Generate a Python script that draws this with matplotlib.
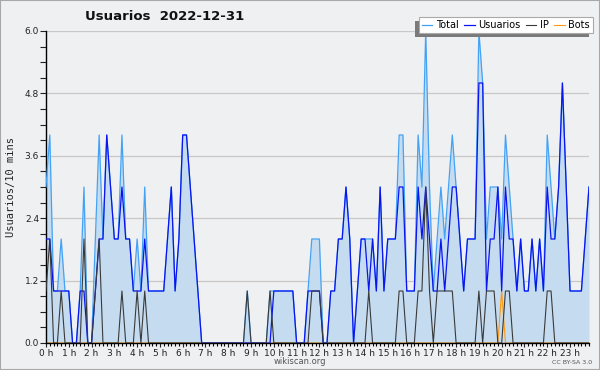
import numpy as np
import matplotlib
matplotlib.use('Agg')
import matplotlib.pyplot as plt
from matplotlib.patches import Rectangle
from matplotlib.ticker import MultipleLocator, FixedLocator, FormatStrFormatter

# valores cada 10 minutos (144 puntos)
total = [3, 4, 1, 1, 2, 1, 1, 0, 0, 1,
         3, 0, 0, 2, 4, 2, 4, 3, 2, 2,
         4, 2, 2, 1, 2, 1, 3, 1, 1, 1,
         1, 1, 2, 3, 1, 2, 4, 4, 3, 2,
         1, 0, 0, 0, 0, 0, 0, 0, 0, 0,
         0, 0, 0, 1, 0, 0, 0, 0, 0, 1,
         1, 1, 1, 1, 1, 1, 0, 0, 0, 1,
         2, 2, 2, 0, 0, 1, 1, 2, 2, 3,
         2, 0, 1, 2, 2, 2, 2, 1, 3, 1,
         2, 2, 2, 4, 4, 1, 1, 1, 4, 3,
         6, 3, 1, 2, 3, 2, 3, 4, 3, 2,
         1, 2, 2, 2, 6, 5, 2, 3, 3, 3,
         2, 4, 3, 2, 1, 2, 1, 1, 2, 1,
         2, 1, 4, 3, 2, 3, 5, 3, 1, 1,
         1, 1, 2, 3]
usuarios = [2, 2, 1, 1, 1, 1, 1, 0, 0, 1,
            1, 0, 0, 1, 2, 2, 4, 3, 2, 2,
            3, 2, 2, 1, 1, 1, 2, 1, 1, 1,
            1, 1, 2, 3, 1, 2, 4, 4, 3, 2,
            1, 0, 0, 0, 0, 0, 0, 0, 0, 0,
            0, 0, 0, 0, 0, 0, 0, 0, 0, 0,
            1, 1, 1, 1, 1, 1, 0, 0, 0, 1,
            1, 1, 1, 0, 0, 1, 1, 2, 2, 3,
            2, 0, 1, 2, 2, 1, 2, 1, 3, 1,
            2, 2, 2, 3, 3, 1, 1, 1, 3, 2,
            3, 2, 1, 1, 2, 1, 2, 3, 3, 2,
            1, 2, 2, 2, 5, 5, 1, 2, 2, 3,
            1, 3, 2, 2, 1, 2, 1, 1, 2, 1,
            2, 1, 3, 2, 2, 3, 5, 3, 1, 1,
            1, 1, 2, 3]
ip = [1, 2, 0, 0, 1, 0, 0, 0, 0, 0,
      2, 0, 0, 1, 2, 0, 0, 0, 0, 0,
      1, 0, 0, 0, 1, 0, 1, 0, 0, 0,
      0, 0, 0, 0, 0, 0, 0, 0, 0, 0,
      0, 0, 0, 0, 0, 0, 0, 0, 0, 0,
      0, 0, 0, 1, 0, 0, 0, 0, 0, 1,
      0, 0, 0, 0, 0, 0, 0, 0, 0, 0,
      1, 1, 1, 0, 0, 0, 0, 0, 0, 0,
      0, 0, 0, 0, 0, 1, 0, 0, 0, 0,
      0, 0, 0, 1, 1, 0, 0, 0, 1, 1,
      3, 1, 0, 1, 1, 1, 1, 1, 0, 0,
      0, 0, 0, 0, 1, 0, 1, 1, 1, 0,
      0, 1, 1, 0, 0, 0, 0, 0, 0, 0,
      0, 0, 1, 1, 0, 0, 0, 0, 0, 0,
      0, 0, 0, 0]
bots = [0] * 144
bots[120] = 1  # unico bot, poco despues de las 20 h

horas = np.arange(len(total)) / 6.0
hour_labels = [f'{h} h' for h in range(24)]

bg = '#eff0f1'
W, H = 600, 370
fig = plt.figure(figsize=(6.0, 3.7), dpi=100, facecolor=bg)
ax = fig.add_axes([46 / W, 27 / H, 543 / W, 312 / H])
ax.set_facecolor(bg)

ax.fill_between(horas, total, 0, color='#c5dcf0', lw=0, zorder=1)
ax.plot(horas, total, color='#44a2f5', lw=0.9, zorder=3, label='Total')
ax.plot(horas, usuarios, color='#0a14f0', lw=0.9, zorder=4, label='Usuarios')
ax.plot(horas, ip, color='#3a3a3a', lw=0.8, zorder=5, label='IP')
ax.plot(horas, bots, color='#ff9a10', lw=0.8, zorder=2, label='Bots')

ax.set_xlim(0, horas[-1])
ax.set_ylim(0, 6.0)
ax.yaxis.set_major_locator(MultipleLocator(1.2))
ax.yaxis.set_minor_locator(MultipleLocator(0.3))
ax.yaxis.set_major_formatter(FormatStrFormatter('%.1f'))
ax.xaxis.set_major_locator(FixedLocator(range(24)))
ax.set_xticklabels(hour_labels)
ax.xaxis.set_minor_locator(MultipleLocator(1 / 6))
ax.grid(axis='y', color='#c8c8c8', lw=0.9, zorder=0)
ax.set_axisbelow(True)

for s in ['top', 'right']:
    ax.spines[s].set_visible(False)
ax.spines['left'].set_linewidth(1.0)
ax.spines['bottom'].set_linewidth(1.0)
ax.tick_params(axis='y', which='both', direction='out', length=4, width=0.8,
               labelsize=6.5, pad=1, colors='#222222')
ax.tick_params(axis='x', which='major', direction='out', length=3, width=0.8,
               labelsize=6.5, pad=1, colors='#222222')
ax.tick_params(axis='x', which='minor', direction='out', length=2, width=0.8)

ax.set_ylabel('Usuarios/10 mins', family='DejaVu Sans Mono', fontsize=7.5,
              labelpad=6, color='#222222')

fig.text(85 / W, 1 - 17 / H, 'Usuarios  2022-12-31', fontsize=9.5,
         fontweight='bold', va='center', ha='left', color='#111111')
fig.text(0.5, 1 - 361 / H, 'wikiscan.org', fontsize=6, ha='center',
         va='center', color='#555555')
fig.text(592 / W, 1 - 362 / H, 'CC BY-SA 3.0', fontsize=4.5, ha='right',
         va='center', color='#555555')

# leyenda arriba a la derecha
leg = fig.legend(loc='upper right', bbox_to_anchor=(593 / W, 1 - 17 / H),
                 ncol=4, fontsize=7, frameon=True, fancybox=False,
                 borderpad=0.3, handlelength=1.1, handletextpad=0.4,
                 columnspacing=0.5, borderaxespad=0)
leg.get_frame().set_edgecolor('#aaaaaa')
leg.get_frame().set_facecolor('white')
leg.get_frame().set_alpha(1)
leg.get_frame().set_linewidth(0.8)
leg.set_zorder(10)

# sombra gris abajo a la izquierda
fig.canvas.draw()
bb = leg.get_window_extent()
sh = Rectangle(((bb.x0 - 4) / W, (bb.y0 - 4) / H), bb.width / W, bb.height / H,
               transform=fig.transFigure, facecolor='#7a7a7a', lw=0, zorder=9)
fig.patches.append(sh)

fig.patches.append(Rectangle((0, 0), 1, 1, transform=fig.transFigure,
                             fill=False, edgecolor='#a8a8a8', lw=1.5))

fig.savefig('out.png', dpi=100, facecolor=bg)
